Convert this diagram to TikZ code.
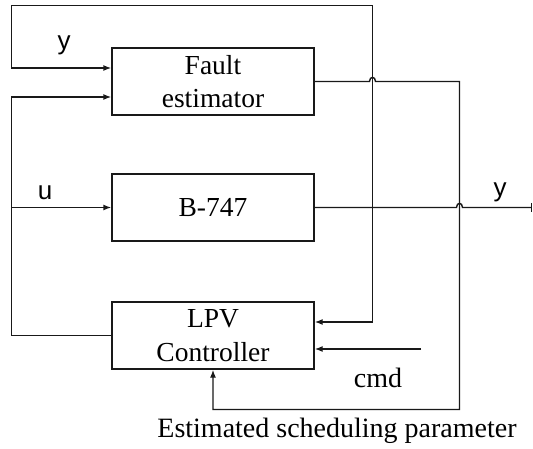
\documentclass[tikz,border=0pt]{standalone}
\usepackage{fontspec}
\setmainfont{Liberation Serif}
\setsansfont{Liberation Sans}
\usetikzlibrary{arrows.meta}
\begin{document}
\begin{tikzpicture}[x=1pt,y=-1pt,line width=1.4pt,draw=black!90,
  arr/.style={-{Latex[length=8pt,width=6pt]}},
  blk/.style={draw,line width=1.4pt,minimum width=202pt,minimum height=67pt,
    font=\fontsize{27.5}{33.5}\selectfont,align=center,inner sep=0pt},
  lbl/.style={font=\sffamily\fontsize{26}{30}\selectfont,anchor=base},
  serif/.style={font=\fontsize{28}{33}\selectfont,anchor=base}]
\useasboundingbox (0,0) rectangle (533,449);
\node[blk] (fe) at (213,81.5) {Fault\\estimator};
\node[blk] (b7) at (213,207.5) {B-747};
\node[blk] (lpv) at (213,335.5) {LPV\\Controller};
\coordinate (c1) at (11.5,5.5);
\coordinate (c2) at (372.5,5.5);
\coordinate (c3) at (11.5,97);
\coordinate (c4) at (11.5,207.5);
\coordinate (h1a) at (369.5,81.5);
\coordinate (h1b) at (375.5,81.5);
\coordinate (c5) at (459.5,81.5);
\coordinate (c6) at (459.5,409.5);
\coordinate (h2a) at (456.5,207.5);
\coordinate (h2b) at (462.5,207.5);
\coordinate (c7) at (532,207.5);
\coordinate (c8) at (421,349);
% feedback y
\draw[arr] (c2) -- (c1) |- ([yshift=13.5pt]fe.west);
\draw[arr] (c2) |- ([yshift=13.5pt]lpv.east);
% control u
\draw[arr] (lpv.west) -| (c3) -- ([yshift=-15.5pt]fe.west);
\draw[arr] (c4) -- (b7.west);
% estimated parameter
\draw[arr] (fe.east) -- (h1a) .. controls (369.5,76) and (375.5,76) .. (h1b) -- (c5) -- (c6) -| (lpv.south);
% output y
\draw[-{Bar[width=9pt]}] (b7.east) -- (h2a) .. controls (456.5,202) and (462.5,202) .. (h2b) -- (c7);
% cmd
\draw[arr] (c8) -- ([yshift=-13.5pt]lpv.east);
% labels
\node[lbl] (ly1) at (64,50) {y};
\node[lbl] (lu) at (45,200) {u};
\node[lbl] (ly2) at (500,197) {y};
\node[serif] (lcmd) at (378,387) {cmd};
\node[serif] (lest) at (337,437) {Estimated scheduling parameter};
\end{tikzpicture}
\end{document}
